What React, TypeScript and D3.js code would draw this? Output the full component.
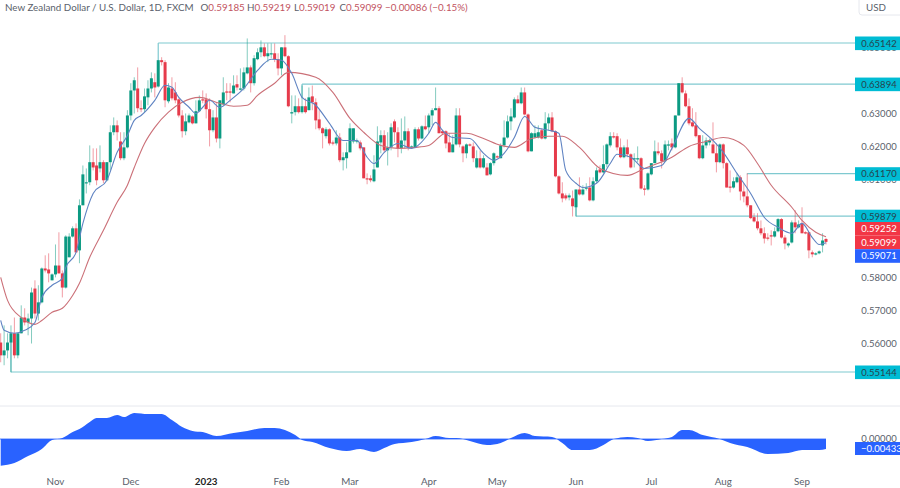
import * as d3 from "d3";

// NZD/USD daily candles
const opens = [
  .5604,.5565,.5580,.5604,.5632,.5565,.5632,.5680,.5665,.5677,
  .5768,.5692,.5726,.5829,.5826,.5793,.5811,.5838,.5814,.5771,
  .5863,.5926,.5951,.5884,.6021,.6088,.6091,.6152,.6142,.6133,
  .6152,.6097,.6152,.6243,.6264,.6215,.6164,.6197,.6294,.6370,
  .6376,.6316,.6313,.6349,.6376,.6395,.6382,.6462,.6456,.6337,
  .6376,.6364,.6343,.6294,.6246,.6273,.6291,.6270,.6307,.6343,
  .6343,.6313,.6249,.6288,.6224,.6328,.6367,.6367,.6361,.6389,
  .6373,.6376,.6422,.6440,.6392,.6465,.6486,.6501,.6474,.6480,
  .6483,.6465,.6437,.6501,.6474,.6300,.6304,.6322,.6304,.6322,
  .6310,.6352,.6334,.6282,.6255,.6231,.6252,.6212,.6209,.6227,
  .6158,.6164,.6182,.6215,.6215,.6212,.6197,.6103,.6103,.6094,
  .6136,.6212,.6234,.6188,.6197,.6276,.6243,.6194,.6218,.6246,
  .6197,.6197,.6252,.6224,.6261,.6258,.6294,.6310,.6316,.6246,
  .6246,.6212,.6182,.6206,.6294,.6200,.6179,.6206,.6200,.6136,
  .6164,.6136,.6136,.6115,.6149,.6170,.6164,.6203,.6227,.6276,
  .6288,.6343,.6331,.6364,.6297,.6185,.6227,.6227,.6249,.6224,
  .6270,.6288,.6246,.6109,.6057,.6051,.6045,.6042,.6015,.6069,
  .6054,.6072,.6075,.6036,.6094,.6130,.6121,.6146,.6203,.6231,
  .6231,.6197,.6167,.6197,.6176,.6161,.6161,.6164,.6072,.6069,
  .6115,.6149,.6185,.6179,.6155,.6203,.6209,.6197,.6294,.6392,
  .6361,.6322,.6273,.6264,.6234,.6164,.6203,.6212,.6206,.6179,
  .6152,.6206,.6149,.6078,.6075,.6091,.6106,.6063,.6048,.6021,
  .5985,.5972,.5951,.5936,.5923,.5930,.5926,.5942,.5979,.5923,
  .5899,.5908,.5969,.5954,.5966,.5939,.5939,.5878,.5872,.5875,
  .5899,.59185,
];
const highs = [
  .5632,.5656,.5632,.5656,.5680,.5632,.5717,.5708,.5692,.5771,
  .5793,.5778,.5832,.5869,.5875,.5814,.5902,.5939,.5823,.5930,
  .5936,.5957,.5966,.6039,.6142,.6133,.6203,.6194,.6194,.6203,
  .6158,.6152,.6264,.6288,.6279,.6243,.6243,.6310,.6392,.6410,
  .6440,.6340,.6376,.6401,.6425,.6422,.6462,.6471,.6462,.6392,
  .6410,.6395,.6346,.6310,.6300,.6300,.6294,.6340,.6355,.6370,
  .6361,.6346,.6310,.6331,.6340,.6410,.6392,.6392,.6416,.6416,
  .6437,.6440,.6528,.6446,.6477,.6498,.6522,.6513,.6513,.6513,
  .6513,.6483,.6501,.6538,.6477,.6355,.6355,.6346,.6385,.6346,
  .6379,.6385,.6346,.6310,.6258,.6258,.6255,.6218,.6249,.6240,
  .6182,.6212,.6270,.6255,.6224,.6218,.6197,.6118,.6112,.6173,
  .6261,.6249,.6249,.6243,.6270,.6282,.6258,.6285,.6291,.6255,
  .6203,.6258,.6258,.6264,.6294,.6300,.6316,.6379,.6322,.6249,
  .6249,.6240,.6234,.6316,.6316,.6203,.6209,.6209,.6212,.6188,
  .6188,.6173,.6149,.6152,.6182,.6173,.6209,.6279,.6294,.6316,
  .6349,.6355,.6379,.6379,.6300,.6243,.6264,.6264,.6255,.6304,
  .6300,.6304,.6249,.6112,.6091,.6057,.6057,.6066,.6069,.6106,
  .6082,.6088,.6106,.6106,.6136,.6142,.6203,.6209,.6243,.6243,
  .6240,.6224,.6203,.6221,.6179,.6179,.6200,.6167,.6082,.6121,
  .6149,.6218,.6212,.6188,.6218,.6218,.6224,.6294,.6392,.6410,
  .6370,.6346,.6316,.6304,.6234,.6234,.6227,.6224,.6273,.6209,
  .6209,.6209,.6152,.6127,.6106,.6118,.6112,.6088,.6118,.6021,
  .5997,.5997,.5975,.5954,.5936,.5945,.5954,.5982,.5982,.5930,
  .5908,.5975,.6006,.5975,.6015,.5942,.5939,.5884,.5878,.5884,
  .5936,.59219,
];
const lows = [
  .5544,.5535,.5556,.5513,.5556,.5556,.5632,.5656,.5626,.5601,
  .5677,.5671,.5723,.5817,.5787,.5793,.5802,.5814,.5741,.5768,
  .5863,.5923,.5878,.5845,.6021,.6057,.6082,.6127,.6082,.6121,
  .6088,.6094,.6127,.6234,.6218,.6158,.6158,.6194,.6279,.6300,
  .6304,.6304,.6304,.6325,.6364,.6349,.6379,.6446,.6319,.6331,
  .6340,.6331,.6288,.6227,.6234,.6270,.6267,.6270,.6304,.6331,
  .6285,.6200,.6243,.6212,.6194,.6325,.6340,.6334,.6361,.6370,
  .6370,.6370,.6419,.6364,.6385,.6462,.6471,.6471,.6456,.6468,
  .6456,.6416,.6416,.6471,.6319,.6270,.6294,.6300,.6300,.6300,
  .6310,.6310,.6252,.6249,.6194,.6224,.6203,.6203,.6203,.6152,
  .6127,.6133,.6182,.6209,.6209,.6188,.6103,.6085,.6091,.6091,
  .6136,.6179,.6182,.6142,.6188,.6212,.6167,.6179,.6194,.6188,
  .6194,.6194,.6218,.6221,.6249,.6240,.6264,.6310,.6240,.6237,
  .6194,.6182,.6182,.6203,.6197,.6152,.6164,.6200,.6152,.6133,
  .6133,.6133,.6112,.6112,.6142,.6164,.6164,.6197,.6224,.6249,
  .6285,.6331,.6328,.6294,.6182,.6185,.6224,.6224,.6221,.6221,
  .6249,.6243,.6106,.6054,.6030,.6036,.6036,.5987,.5987,.6051,
  .6051,.6066,.6033,.6033,.6088,.6118,.6118,.6136,.6197,.6224,
  .6188,.6164,.6164,.6167,.6133,.6136,.6152,.6069,.6051,.6066,
  .6112,.6149,.6173,.6133,.6152,.6188,.6188,.6194,.6294,.6361,
  .6319,.6264,.6258,.6227,.6161,.6161,.6194,.6203,.6179,.6121,
  .6149,.6133,.6075,.6060,.6072,.6088,.6036,.6030,.6015,.5979,
  .5969,.5945,.5930,.5905,.5914,.5899,.5923,.5939,.5920,.5887,
  .5893,.5905,.5936,.5951,.5936,.5933,.5860,.5863,.5869,.5872,
  .5878,.59019,
];
const closes = [
  .5565,.5580,.5604,.5632,.5565,.5632,.5680,.5665,.5677,.5756,
  .5692,.5726,.5829,.5823,.5814,.5811,.5838,.5814,.5771,.5926,
  .5926,.5951,.5878,.6021,.6115,.6091,.6152,.6136,.6097,.6152,
  .6097,.6152,.6243,.6264,.6243,.6164,.6197,.6294,.6370,.6401,
  .6316,.6313,.6352,.6376,.6407,.6379,.6462,.6456,.6340,.6379,
  .6346,.6340,.6294,.6246,.6276,.6294,.6270,.6307,.6340,.6340,
  .6313,.6249,.6288,.6224,.6340,.6364,.6364,.6364,.6385,.6379,
  .6376,.6425,.6440,.6392,.6468,.6486,.6501,.6474,.6483,.6483,
  .6465,.6437,.6501,.6474,.6322,.6304,.6322,.6304,.6322,.6304,
  .6349,.6334,.6279,.6255,.6240,.6252,.6209,.6209,.6227,.6158,
  .6167,.6182,.6255,.6255,.6218,.6194,.6103,.6100,.6097,.6130,
  .6215,.6234,.6188,.6197,.6258,.6243,.6194,.6218,.6246,.6197,
  .6200,.6252,.6224,.6261,.6252,.6294,.6310,.6316,.6240,.6240,
  .6209,.6182,.6206,.6294,.6206,.6179,.6206,.6203,.6164,.6164,
  .6136,.6164,.6112,.6149,.6179,.6167,.6203,.6227,.6276,.6291,
  .6343,.6331,.6364,.6297,.6185,.6240,.6240,.6243,.6224,.6270,
  .6288,.6246,.6109,.6057,.6042,.6042,.6051,.6018,.6069,.6054,
  .6069,.6075,.6036,.6094,.6127,.6121,.6146,.6206,.6231,.6227,
  .6197,.6167,.6197,.6176,.6136,.6164,.6164,.6072,.6069,.6118,
  .6149,.6185,.6179,.6155,.6206,.6206,.6197,.6294,.6392,.6364,
  .6322,.6270,.6261,.6231,.6164,.6203,.6218,.6218,.6179,.6152,
  .6206,.6149,.6075,.6075,.6094,.6106,.6063,.6048,.6021,.5982,
  .5972,.5951,.5936,.5920,.5920,.5926,.5942,.5979,.5923,.5905,
  .5905,.5969,.5954,.5963,.5936,.5936,.5884,.5872,.5875,.5881,
  .5914,.59099,
];

// slow moving average, sampled at these bars
const slowBars = [0,2,6,10,12,15,18,21,23,26,30,34,37,39,42,45,49,53,58,64,68,72,75,80,84,92,97,102,106,111,116,121,125,130,136,141,146,150,155,160,164,169,175,183,188,196,201,206,211,217,221,225,231,234,238,241];
const slowValues = [.5802,.5732,.5680,.5659,.5671,.5696,.5708,.5747,.5784,.5863,.5945,.6030,.6082,.6136,.6209,.6258,.6304,.6334,.6349,.6331,.6322,.6325,.6355,.6392,.6425,.6410,.6364,.6285,.6243,.6203,.6194,.6197,.6203,.6240,.6240,.6224,.6203,.6197,.6224,.6231,.6231,.6197,.6133,.6112,.6133,.6167,.6200,.6215,.6227,.6203,.6148,.6082,.6015,.5975,.5939,.59252];

// fast moving average
const fastBars = [0,1,4,7,10,12,15,18,19,22,24,27,31,34,37,39,41,45,48,50,52,55,57,59,61,64,67,71,75,79,82,85,88,92,96,100,104,107,109,112,116,120,125,127,129,132,137,141,144,147,150,153,156,160,163,165,168,170,174,178,180,184,188,193,196,201,204,208,211,215,219,223,227,231,234,237,239,241];
const fastValues = [.5671,.5641,.5632,.5641,.5665,.5741,.5778,.5799,.5832,.5878,.5966,.6057,.6097,.6182,.6233,.6279,.6294,.6340,.6386,.6380,.6349,.6319,.6300,.6319,.6340,.6319,.6340,.6376,.6431,.6465,.6462,.6422,.6349,.6325,.6270,.6218,.6218,.6167,.6148,.6182,.6209,.6194,.6240,.6273,.6249,.6227,.6224,.6179,.6158,.6179,.6227,.6291,.6258,.6249,.6240,.6127,.6088,.6075,.6088,.6148,.6176,.6167,.6133,.6142,.6194,.6285,.6255,.6218,.6182,.6118,.6057,.5984,.5954,.5936,.5966,.5923,.5902,.59071];

// oscillator pane
const oscBars = [0,4,8,12,15,18,21,23,26,28,31,34,36,39,43,47,50,53,56,59,63,68,72,77,80,83,86,88,91,96,101,105,109,112,115,120,124,127,131,133,137,142,146,149,153,156,161,164,167,172,176,179,183,186,189,193,196,199,201,205,210,213,218,224,230,234,239,241];
const oscValues = [-.01156,-.0104,-.0074,-.0043,-.0004,.0004,.0030,.0043,.0074,.0091,.0091,.0104,.0095,.0113,.0108,.0108,.0082,.0052,.0035,.0030,.0013,.0026,.0035,.0048,.0048,.0039,.0017,-.0004,-.0013,-.0039,-.0052,-.0043,-.0056,-.0039,-.0022,-.0013,0,.0013,.0004,.0004,-.0009,-.0026,-.0017,.0004,.0026,.0013,.0009,-.0017,-.0048,-.0048,-.0026,0,.0009,.0004,-.0009,0,.0009,.0039,.0039,.0017,0,-.0017,-.0035,-.0065,-.0061,-.0048,-.0048,-.00433];

// support / resistance levels: price, first bar, and where the short stem ends
const levelPrices = [.65142,.63894,.61170,.59879,.55144];
const levelBars = [46,88,218,168,3];
const levelStems = [.6462,.6346,.6115,.6024,.5632];

// .64, .60 and .59 sit fully behind the level and last-price tags
const priceTicks = [.65,.63,.62,.61,.58,.57,.56];
const monthLabels = ["Nov","Dec","2023","Feb","Mar","Apr","May","Jun","Jul","Aug","Sep"];
const monthBars = [16,38,60,82,102,125,145,168,190,211,234];

const ohlcLabels = ["O","H","L","C"];
const ohlcValues = ["0.59185","0.59219","0.59019","0.59099"];
const ohlcLeft = [200.5,247,294,339.5];

const FONT = "Lato, 'Noto Sans', sans-serif";
const UP = "#0b9a82";
const DOWN = "#e63b4b";
const QUOTE = "#c2545f";
const TEAL = "#00bcd4";
const LINE = "#7fc9d0";
const AXIS = "#5a5f6b";

const x = d3.scaleLinear().domain([0, opens.length - 1]).range([0.7, 826]);
const y = d3.scaleLinear().domain([0.55144, 0.65142]).range([372, 43]);
const yOsc = d3.scaleLinear().domain([-0.00433, 0]).range([449, 439]);
const f5 = d3.format(".5f");

const maLine = (bars: number[]) =>
  d3.line<number>().x((_, i) => x(bars[i])).y(d => y(d)).curve(d3.curveMonotoneX);

const oscArea = d3.area<number>()
  .x((_, i) => x(oscBars[i])).y0(yOsc(0)).y1(d => yOsc(d)).curve(d3.curveMonotoneX);

function PriceTag({ y: cy, text, fill, color }: { y: number; text: string; fill: string; color: string }) {
  return (
    <g>
      <rect x={855} y={cy - 6.8} width={45} height={13.6} fill={fill} />
      <text x={879} y={cy + 3.4} textAnchor="middle" fontSize={9.5} fill={color}>{text}</text>
    </g>
  );
}

export default function App() {
  const oscTop = yOsc(0);
  return (
    <div style={{ position: "fixed", left: 0, top: 0, width: 900, height: 488, overflow: "hidden", background: "#fff" }}>
      <svg width={900} height={488} fontFamily={FONT} style={{ display: "block" }}>
        {/* header */}
        <text x={5} y={11} fontSize={9.8} fill={AXIS}>New Zealand Dollar / U.S. Dollar, 1D, FXCM</text>
        {ohlcLabels.map((l, i) => (
          <text key={l} x={ohlcLeft[i]} y={11} fontSize={9.8} fill={QUOTE}>
            <tspan fill={AXIS}>{l}</tspan>{ohlcValues[i]}
          </text>
        ))}
        <text x={385} y={11} fontSize={9.8} fill={QUOTE}>−0.00086 (−0.15%)</text>
        <rect x={859} y={-6} width={50} height={21} rx={3} fill="#fff" stroke="#e6e8ee" />
        <text x={866} y={11} fontSize={9.8} fill={AXIS}>USD</text>

        {/* price axis */}
        {priceTicks.map(t => (
          <text key={t} x={879} y={y(t) + 3.4} textAnchor="middle" fontSize={9.5} fill={AXIS}>{f5(t)}</text>
        ))}

        {/* levels */}
        {levelPrices.map((p, i) => (
          <g key={p} stroke={LINE} strokeWidth={1.2} fill="none">
            <line x1={x(levelBars[i])} x2={855} y1={y(p)} y2={y(p)} />
            <line x1={x(levelBars[i])} x2={x(levelBars[i])} y1={y(p)} y2={y(levelStems[i])} />
          </g>
        ))}

        {/* candles */}
        {opens.map((o, i) => {
          const c = closes[i];
          const col = c >= o ? UP : DOWN;
          const top = y(Math.max(o, c));
          const bot = y(Math.min(o, c));
          return (
            <g key={i}>
              <line x1={x(i)} x2={x(i)} y1={y(highs[i])} y2={y(lows[i])} stroke={col} strokeOpacity={0.5} strokeWidth={1} />
              <rect x={x(i) - 1.5} y={top} width={3} height={Math.max(bot - top, 1.2)} fill={col} />
            </g>
          );
        })}

        {/* moving averages */}
        <path d={maLine(slowBars)(slowValues) ?? ""} fill="none" stroke="#cb7078" strokeWidth={1.1} />
        <path d={maLine(fastBars)(fastValues) ?? ""} fill="none" stroke="#5f83c2" strokeWidth={1.1} />

        {/* last-value tags */}
        {levelPrices.map(p => (
          <PriceTag key={p} y={y(p) + 0.3} text={f5(p)} fill={TEAL} color="#26434e" />
        ))}
        <PriceTag y={228.8} text="0.59252" fill="#f23645" color="#fff" />
        <PriceTag y={242.4} text="0.59099" fill="#f23645" color="#fff" />
        <PriceTag y={256} text="0.59071" fill="#2962ff" color="#fff" />

        {/* oscillator */}
        <line x1={0} x2={900} y1={406} y2={406} stroke="#e6e8ee" />
        <path d={oscArea(oscValues) ?? ""} fill="#2962ff" />
        <line x1={0} x2={826} y1={oscTop} y2={oscTop} stroke="#2962ff" strokeWidth={0.8} />
        <text x={879} y={oscTop + 3.4} textAnchor="middle" fontSize={9.5} fill={AXIS}>{f5(0)}</text>
        <rect x={855} y={442} width={45} height={13} fill="#2962ff" />
        <text x={861} y={452.2} fontSize={9.5} fill="#fff">−0.00433</text>

        {/* time axis */}
        {monthLabels.map((m, i) => (
          <text key={m} x={x(monthBars[i])} y={485} textAnchor="middle" fontSize={9.8}
            fill={m === "2023" ? "#222" : AXIS} fontWeight={m === "2023" ? 700 : 400}>{m}</text>
        ))}
      </svg>
    </div>
  );
}
